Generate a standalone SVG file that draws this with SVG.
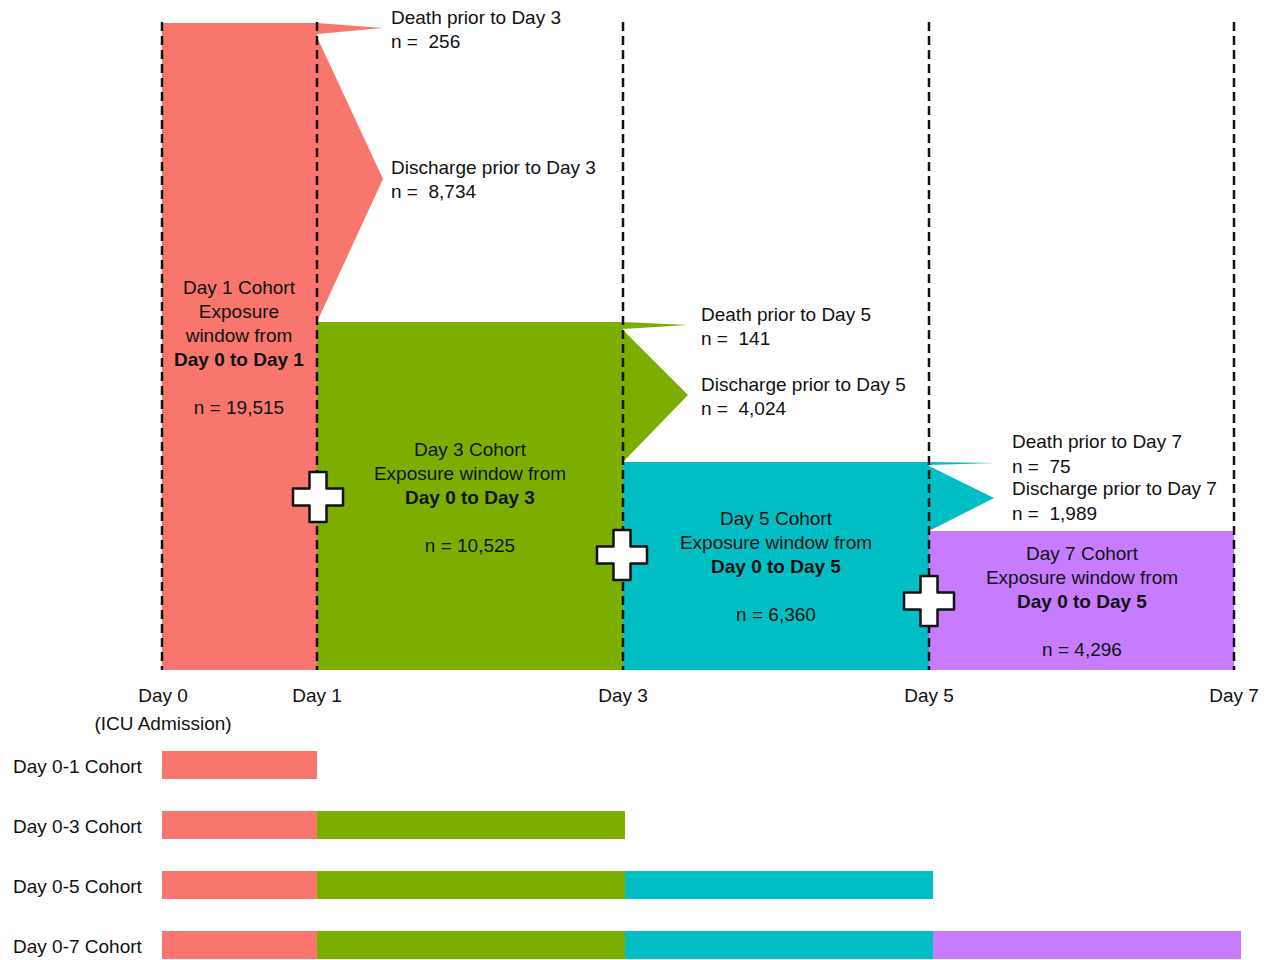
<svg xmlns="http://www.w3.org/2000/svg" width="1270" height="960" viewBox="0 0 1270 960">
<style>
text{font-family:"Liberation Sans",Arial,sans-serif;font-size:19px;fill:#111}
.c{text-anchor:middle}
.b{font-weight:bold}
.pre{white-space:pre}
.r{fill:#F8766D}.g{fill:#7CAE00}.t{fill:#00BFC4}.p{fill:#C77CFF}
.dash{stroke:#111;stroke-width:2.5;stroke-dasharray:9 5;fill:none}
.plus{fill:#fff;stroke:#111;stroke-width:2.5;stroke-linejoin:round}
</style>
<defs>
<path id="plus" d="M-8.5,-25 H8.5 V-8.5 H25 V8.5 H8.5 V25 H-8.5 V8.5 H-25 V-8.5 H-8.5 Z"/>
</defs>
<rect width="1270" height="960" fill="#fff"/>

<g id="day1-cohort">
<rect class="r" x="162" y="23" width="155" height="647"/>
<text class="c" x="239" y="294">Day 1 Cohort</text>
<text class="c" x="239" y="318">Exposure</text>
<text class="c" x="239" y="342">window from</text>
<text class="c b" x="239" y="366">Day 0 to Day 1</text>
<text class="c" x="239" y="414">n = 19,515</text>
</g>

<g id="day3-cohort">
<rect class="g" x="317" y="322" width="306" height="348"/>
<text class="c" x="470" y="456">Day 3 Cohort</text>
<text class="c" x="470" y="480">Exposure window from</text>
<text class="c b" x="470" y="504">Day 0 to Day 3</text>
<text class="c" x="470" y="552">n = 10,525</text>
</g>

<g id="day5-cohort">
<rect class="t" x="623" y="462" width="306" height="208"/>
<text class="c" x="776" y="525">Day 5 Cohort</text>
<text class="c" x="776" y="549">Exposure window from</text>
<text class="c b" x="776" y="573">Day 0 to Day 5</text>
<text class="c" x="776" y="621">n = 6,360</text>
</g>

<g id="day7-cohort">
<rect class="p" x="929" y="531" width="305" height="139"/>
<text class="c" x="1082" y="560">Day 7 Cohort</text>
<text class="c" x="1082" y="584">Exposure window from</text>
<text class="c b" x="1082" y="608">Day 0 to Day 5</text>
<text class="c" x="1082" y="656">n = 4,296</text>
</g>

<g id="connectors">
<polygon class="r" points="317,23 383,28 317,34"/>
<polygon class="r" points="317,37 383,179 317,322"/>
<polygon class="g" points="623,322 688,325 623,329"/>
<polygon class="g" points="623,330 688,395 623,462"/>
<polygon class="t" points="929,462 995,463 929,465"/>
<polygon class="t" points="929,466 994,498 929,531"/>
</g>

<g id="outflow-labels">
<text class="pre" x="391" y="24">Death prior to Day 3</text>
<text class="pre" x="391" y="48">n =  256</text>
<text class="pre" x="391" y="174">Discharge prior to Day 3</text>
<text class="pre" x="391" y="198">n =  8,734</text>
<text class="pre" x="701" y="321">Death prior to Day 5</text>
<text class="pre" x="701" y="345">n =  141</text>
<text class="pre" x="701" y="391">Discharge prior to Day 5</text>
<text class="pre" x="701" y="415">n =  4,024</text>
<text class="pre" x="1012" y="448">Death prior to Day 7</text>
<text class="pre" x="1012" y="473">n =  75</text>
<text class="pre" x="1012" y="495">Discharge prior to Day 7</text>
<text class="pre" x="1012" y="520">n =  1,989</text>
</g>

<g id="day-lines">
<line class="dash" x1="162" y1="22" x2="162" y2="670"/>
<line class="dash" x1="317" y1="22" x2="317" y2="670"/>
<line class="dash" x1="623" y1="22" x2="623" y2="670"/>
<line class="dash" x1="929" y1="22" x2="929" y2="670"/>
<line class="dash" x1="1234" y1="22" x2="1234" y2="670"/>
</g>

<g id="plus-signs">
<use href="#plus" class="plus" x="318" y="497"/>
<use href="#plus" class="plus" x="622" y="555"/>
<use href="#plus" class="plus" x="929" y="601"/>
</g>

<g id="axis-labels">
<text class="c" x="163" y="702">Day 0</text>
<text class="c" x="163" y="730">(ICU Admission)</text>
<text class="c" x="317" y="702">Day 1</text>
<text class="c" x="623" y="702">Day 3</text>
<text class="c" x="929" y="702">Day 5</text>
<text class="c" x="1234" y="702">Day 7</text>
</g>

<g id="cohort-bars">
<text x="13" y="773">Day 0-1 Cohort</text>
<rect class="r" x="162" y="751" width="155" height="28"/>
<text x="13" y="833">Day 0-3 Cohort</text>
<rect class="r" x="162" y="811" width="155" height="28"/>
<rect class="g" x="317" y="811" width="308" height="28"/>
<text x="13" y="893">Day 0-5 Cohort</text>
<rect class="r" x="162" y="871" width="155" height="28"/>
<rect class="g" x="317" y="871" width="308" height="28"/>
<rect class="t" x="625" y="871" width="308" height="28"/>
<text x="13" y="953">Day 0-7 Cohort</text>
<rect class="r" x="162" y="931" width="155" height="28"/>
<rect class="g" x="317" y="931" width="308" height="28"/>
<rect class="t" x="625" y="931" width="308" height="28"/>
<rect class="p" x="933" y="931" width="308" height="28"/>
</g>
</svg>
